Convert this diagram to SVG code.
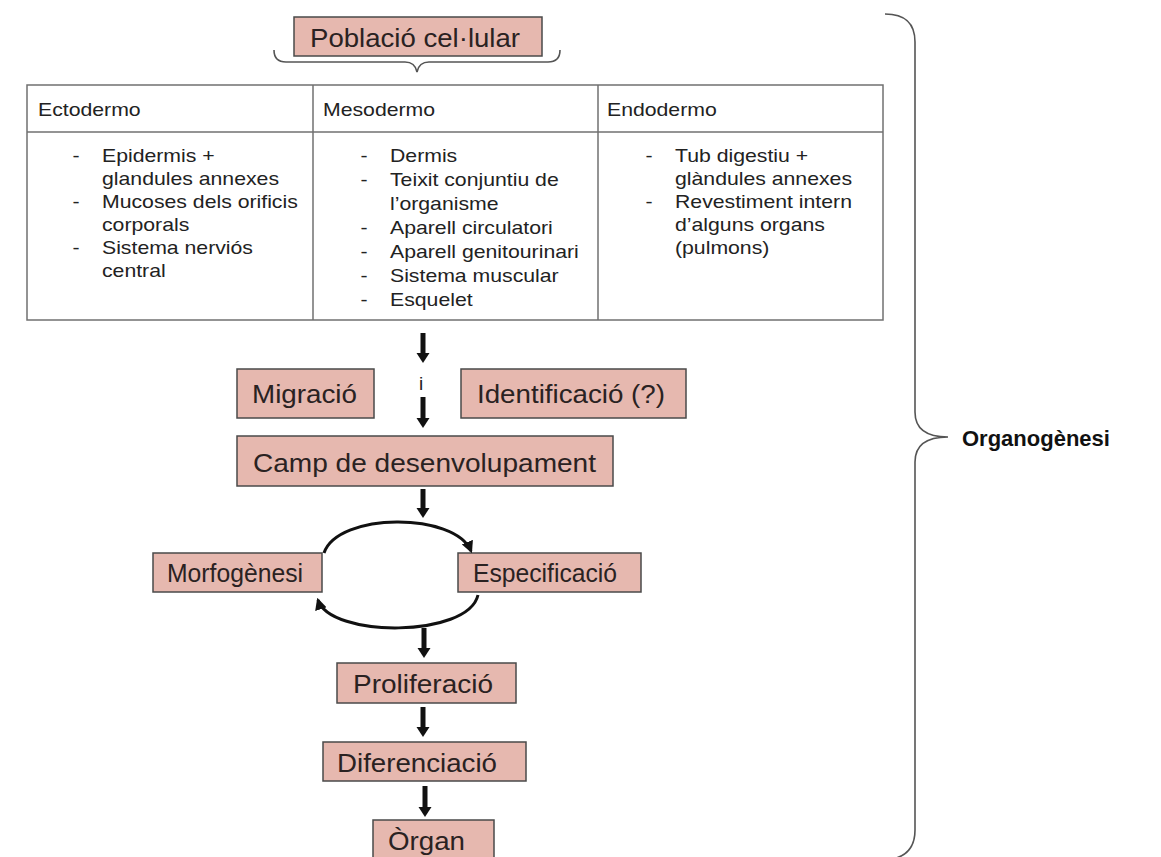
<svg xmlns="http://www.w3.org/2000/svg" width="1161" height="857" viewBox="0 0 1161 857">
<style>
.box{fill:#e6b8af;stroke:#4a4a4a;stroke-width:1.5}
.lbl{font-family:"Liberation Sans",Arial,sans-serif;font-size:26px;fill:#2a2222}
.tt{font-family:"Liberation Sans",Arial,sans-serif;font-size:18px;fill:#222}
.grid{fill:none;stroke:#707070;stroke-width:1.5}
.brace{fill:none;stroke:#555;stroke-width:1.6}
.arc{fill:none;stroke:#111;stroke-width:3}
.shaft{stroke:#111;stroke-width:5}
.head{fill:#111}
</style>
<defs>
<marker id="ah" viewBox="0 0 10 10" refX="8" refY="5" markerWidth="4" markerHeight="4" orient="auto" markerUnits="strokeWidth">
<path d="M0,0 L10,5 L0,10 z" fill="#111"/>
</marker>
</defs>
<rect width="1161" height="857" fill="#fff"/>

<g id="poblacio">
<rect class="box" x="294" y="17" width="248" height="39"/>
<text class="lbl" x="310" y="47" textLength="210" lengthAdjust="spacingAndGlyphs">Població cel·lular</text>
</g>
<g id="brace-small">
<path class="brace" d="M274,50 Q274,62 286,62 L405,62 Q415,62 417,72 Q419,62 429,62 L548,62 Q560,62 560,50"/>
</g>

<g id="table">
<rect class="grid" x="27" y="85" width="856" height="235"/>
<line class="grid" x1="27" y1="132" x2="883" y2="132"/>
<line class="grid" x1="313" y1="85" x2="313" y2="320"/>
<line class="grid" x1="598" y1="85" x2="598" y2="320"/>
<g transform="translate(38,0) scale(1.18,1)">
<text class="tt" x="0" y="116">Ectodermo</text>
</g>
<g transform="translate(323,0) scale(1.18,1)">
<text class="tt" x="0" y="116">Mesodermo</text>
</g>
<g transform="translate(607,0) scale(1.18,1)">
<text class="tt" x="0" y="116">Endodermo</text>
</g>
<g id="ecto" transform="translate(102,0) scale(1.18,1)">
<text class="tt" x="-25" y="162">-</text>
<text class="tt" x="0" y="162">Epidermis +</text>
<text class="tt" x="0" y="185">glandules annexes</text>
<text class="tt" x="-25" y="208">-</text>
<text class="tt" x="0" y="208">Mucoses dels orificis</text>
<text class="tt" x="0" y="231">corporals</text>
<text class="tt" x="-25" y="254">-</text>
<text class="tt" x="0" y="254">Sistema nerviós</text>
<text class="tt" x="0" y="277">central</text>
</g>
<g id="meso" transform="translate(390,0) scale(1.18,1)">
<text class="tt" x="-25" y="162">-</text>
<text class="tt" x="0" y="162">Dermis</text>
<text class="tt" x="-25" y="186">-</text>
<text class="tt" x="0" y="186">Teixit conjuntiu de</text>
<text class="tt" x="0" y="210">l’organisme</text>
<text class="tt" x="-25" y="234">-</text>
<text class="tt" x="0" y="234">Aparell circulatori</text>
<text class="tt" x="-25" y="258">-</text>
<text class="tt" x="0" y="258">Aparell genitourinari</text>
<text class="tt" x="-25" y="282">-</text>
<text class="tt" x="0" y="282">Sistema muscular</text>
<text class="tt" x="-25" y="306">-</text>
<text class="tt" x="0" y="306">Esquelet</text>
</g>
<g id="endo" transform="translate(675,0) scale(1.18,1)">
<text class="tt" x="-25" y="162">-</text>
<text class="tt" x="0" y="162">Tub digestiu +</text>
<text class="tt" x="0" y="185">glàndules annexes</text>
<text class="tt" x="-25" y="208">-</text>
<text class="tt" x="0" y="208">Revestiment intern</text>
<text class="tt" x="0" y="231">d’alguns organs</text>
<text class="tt" x="0" y="254">(pulmons)</text>
</g>
</g>

<g id="migracio">
<rect class="box" x="237" y="369" width="137" height="49"/>
<text class="lbl" x="252" y="403" textLength="105" lengthAdjust="spacingAndGlyphs">Migració</text>
</g>
<g id="identificacio">
<rect class="box" x="461" y="369" width="225" height="49"/>
<text class="lbl" x="477" y="403" textLength="188" lengthAdjust="spacingAndGlyphs">Identificació (?)</text>
</g>
<g id="camp">
<rect class="box" x="237" y="436" width="376" height="50"/>
<text class="lbl" x="253" y="472" textLength="343" lengthAdjust="spacingAndGlyphs">Camp de desenvolupament</text>
</g>
<g id="morfogenesi">
<rect class="box" x="153" y="553" width="169" height="39"/>
<text class="lbl" x="167" y="582" textLength="136" lengthAdjust="spacingAndGlyphs">Morfogènesi</text>
</g>
<g id="especificacio">
<rect class="box" x="458" y="553" width="183" height="39"/>
<text class="lbl" x="473" y="582" textLength="144" lengthAdjust="spacingAndGlyphs">Especificació</text>
</g>
<g id="proliferacio">
<rect class="box" x="337" y="663" width="179" height="40"/>
<text class="lbl" x="353" y="693" textLength="140" lengthAdjust="spacingAndGlyphs">Proliferació</text>
</g>
<g id="diferenciacio">
<rect class="box" x="323" y="742" width="203" height="39"/>
<text class="lbl" x="337" y="772" textLength="160" lengthAdjust="spacingAndGlyphs">Diferenciació</text>
</g>
<g id="organ">
<rect class="box" x="373" y="820" width="121" height="45"/>
<text class="lbl" x="388" y="850" textLength="77" lengthAdjust="spacingAndGlyphs">Òrgan</text>
</g>

<g id="brace-big">
<path class="brace" d="M885,14 Q915,14 915,42 L915,412 Q915,437 948,437 Q915,437 915,462 L915,830 Q915,858 885,860"/>
</g>
<g id="organogenesi">
<text x="962" y="446" font-family="Liberation Sans, Arial, sans-serif" font-size="22" font-weight="bold" fill="#111">Organogènesi</text>
</g>

<g id="connectors">
<line class="shaft" x1="423" y1="333" x2="423" y2="354"/>
<path class="head" d="M416.5,353 L429.5,353 L423,363 z"/>
<text x="419" y="390" font-family="Liberation Sans, Arial, sans-serif" font-size="19" fill="#222">i</text>
<line class="shaft" x1="423" y1="397" x2="423" y2="419"/>
<path class="head" d="M416.5,418 L429.5,418 L423,428 z"/>
<line class="shaft" x1="423" y1="489" x2="423" y2="509"/>
<path class="head" d="M416.5,508 L429.5,508 L423,518 z"/>
<line class="shaft" x1="424" y1="628" x2="424" y2="649"/>
<path class="head" d="M417.5,648 L430.5,648 L424,658 z"/>
<line class="shaft" x1="423" y1="707" x2="423" y2="728"/>
<path class="head" d="M416.5,727 L429.5,727 L423,737 z"/>
<line class="shaft" x1="425" y1="786" x2="425" y2="808"/>
<path class="head" d="M418.5,807 L431.5,807 L425,817 z"/>
<path class="arc" d="M324,553 C338,512 455,512 471,551" marker-end="url(#ah)"/>
<path class="arc" d="M478,595 C468,638 330,638 318,600" marker-end="url(#ah)"/>
</g>
</svg>
